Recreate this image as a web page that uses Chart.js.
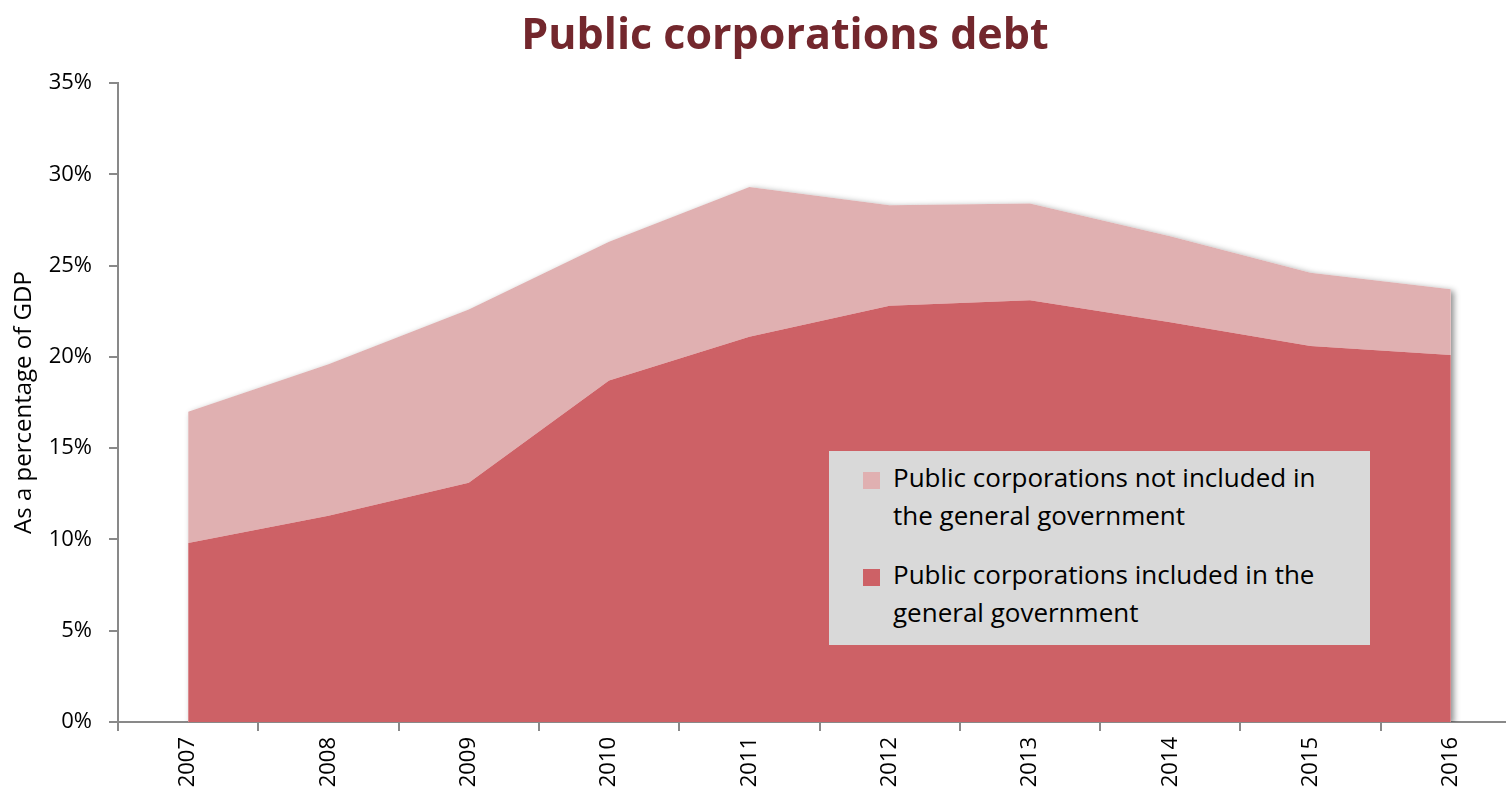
<!DOCTYPE html>
<html>
<head>
<meta charset="utf-8">
<script src="https://cdn.jsdelivr.net/npm/chart.js@4.4.0/dist/chart.umd.min.js"></script>
<style>
  html, body { margin: 0; padding: 0; background: #fff; overflow: hidden; }
  #wrap { position: relative; width: 1506px; height: 795px; overflow: hidden; }
  #myChart { position: absolute; left: 0; top: 0; }
  #legend {
    position: absolute; left: 829px; top: 451px; width: 541px; height: 194px;
    background: #d9d9d9; box-sizing: border-box; padding: 7px 0 0 34px;
    font-family: 'Open Sans', sans-serif; font-size: 26px; color: #000;
  }
  .item { display: flex; align-items: flex-start; line-height: 38px; margin-bottom: 21px; }
  .swatch { width: 17px; height: 17px; margin: 14px 13px 0 0; flex: none; }
  .item span { white-space: nowrap; }
</style>
</head>
<body>
<div id="wrap">
  <canvas id="myChart" width="1560" height="795"></canvas>
  <div id="legend"></div>
</div>
<script>
const years = ['2007', '2008', '2009', '2010', '2011', '2012', '2013', '2014', '2015', '2016'];
// % of GDP
const included = [9.8, 11.3, 13.1, 18.7, 21.1, 22.8, 23.1, 21.9, 20.6, 20.1];
const notIncluded = [7.2, 8.3, 9.5, 7.6, 8.2, 5.5, 5.3, 4.7, 4.0, 3.6];
const yMax = 35;
const yStep = 5;

const labelIncluded = ['Public corporations included in the', 'general government'];
const labelNotIncluded = ['Public corporations not included in', 'the general government'];

const darkRed = '#cd6166';
const lightRed = '#e0b0b1';
const axisGrey = '#898989';

// grey drop shadow behind the whole stacked area, like the original
const areaShadow = {
    id: 'areaShadow',
    beforeDatasetsDraw: function (chart) {
        const pts = chart.getDatasetMeta(1).data;
        const base = chart.scales.y.getPixelForValue(0);
        const area = chart.chartArea;
        const ctx = chart.ctx;
        ctx.save();
        ctx.beginPath();
        ctx.rect(area.left, area.top - 20, area.right - area.left + 20, base - area.top + 20);
        ctx.clip();
        ctx.beginPath();
        ctx.moveTo(pts[0].x, base);
        pts.forEach(p => ctx.lineTo(p.x, p.y));
        ctx.lineTo(pts[pts.length - 1].x, base);
        ctx.closePath();
        ctx.shadowColor = 'rgba(0, 0, 0, 0.45)';
        ctx.shadowBlur = 6;
        ctx.shadowOffsetX = 3;
        ctx.shadowOffsetY = 2;
        ctx.fillStyle = '#fff';
        ctx.fill();
        ctx.restore();
    }
};

const tickFont = { family: 'Open Sans', size: 22 };

const ctx = document.getElementById('myChart').getContext('2d');
const myChart = new Chart(ctx, {
    type: 'line',
    data: {
        labels: years,
        datasets: [{
            label: labelIncluded.join(' '),
            data: included,
            backgroundColor: darkRed,
            borderWidth: 0,
            pointRadius: 0,
            fill: 'origin'
        }, {
            label: labelNotIncluded.join(' '),
            data: notIncluded,
            backgroundColor: lightRed,
            borderWidth: 0,
            pointRadius: 0,
            fill: '-1'
        }]
    },
    options: {
        responsive: false,
        animation: false,
        devicePixelRatio: 1,
        layout: { padding: { left: 49, right: 39, top: 0, bottom: 0 } },
        elements: { line: { tension: 0 } },
        scales: {
            x: {
                stacked: true,
                offset: true,
                z: 1,
                grid: { offset: true, drawOnChartArea: false, tickLength: 9, color: axisGrey, lineWidth: 2 },
                border: { color: axisGrey, width: 2 },
                ticks: { autoSkip: false, minRotation: 90, maxRotation: 90, font: tickFont, color: '#000', padding: 6 },
                afterFit: function (scale) { scale.height = 73; }
            },
            y: {
                stacked: true,
                min: 0,
                max: yMax,
                z: 1,
                grid: { drawOnChartArea: false, tickLength: 9, color: axisGrey, lineWidth: 2 },
                border: { color: axisGrey, width: 2 },
                ticks: { stepSize: yStep, font: tickFont, color: '#000', padding: 17,
                    callback: function (v) { return v + '%'; } },
                title: { display: true, text: 'As a percentage of GDP', color: '#000',
                    font: { family: 'Open Sans', size: 24 }, padding: { top: -39, bottom: 0 } },
                afterFit: function (scale) { scale.width = 69; }
            }
        },
        plugins: {
            title: {
                display: true,
                text: 'Public corporations debt',
                color: '#73272d',
                font: { family: 'Open Sans', size: 43, weight: 'bold' },
                padding: { top: 11, bottom: 20.4 }
            },
            legend: { display: false },
            tooltip: { enabled: false }
        }
    },
    plugins: [areaShadow]
});

// legend box, light series listed first as in the original
const legendEl = document.getElementById('legend');
[[labelNotIncluded, lightRed], [labelIncluded, darkRed]].forEach(function (entry) {
    const item = document.createElement('div');
    item.className = 'item';
    const sw = document.createElement('div');
    sw.className = 'swatch';
    sw.style.background = entry[1];
    const txt = document.createElement('div');
    entry[0].forEach(function (line, i) {
        if (i > 0) txt.appendChild(document.createElement('br'));
        const s = document.createElement('span');
        s.textContent = line;
        txt.appendChild(s);
    });
    item.appendChild(sw);
    item.appendChild(txt);
    legendEl.appendChild(item);
});
</script>
</body>
</html>
